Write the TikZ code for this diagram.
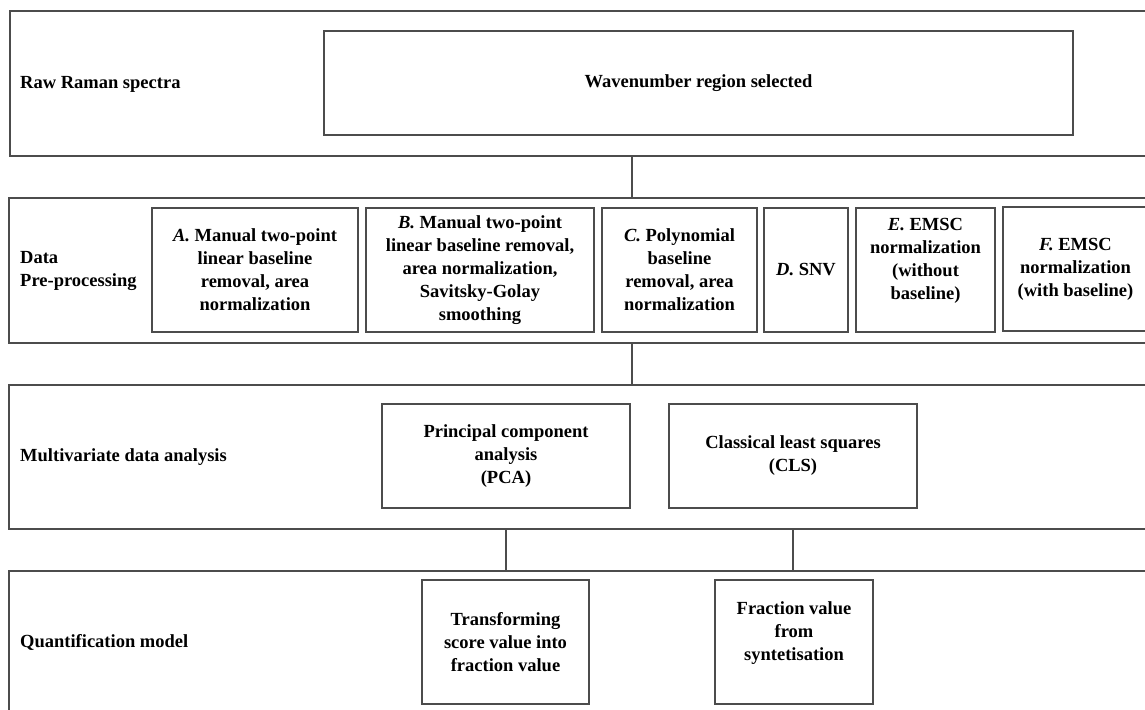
\documentclass[tikz,border=0pt]{standalone}
\usepackage{fontspec}
\setmainfont{Liberation Serif}
\begin{document}
\begin{tikzpicture}[x=1pt,y=-1pt,
  every node/.style={font=\fontsize{18.5}{23}\selectfont\bfseries, text=black, inner sep=0pt},
  band/.style={draw=black!70, line width=1.7pt, rectangle, anchor=north west},
  box/.style={draw=black!70, line width=1.7pt, rectangle, align=center},
  lbl/.style={anchor=west, align=left},
  conn/.style={draw=black!70, line width=1.7pt}]
\useasboundingbox (0,0) rectangle (1145,709);
\clip (0,0) rectangle (1145,709);
\fill[white] (0,0) rectangle (1145,709);
% bands
\node[band, minimum width=1160pt, minimum height=145pt] (b1) at (9,10) {};
\node[band, minimum width=1160pt, minimum height=145pt] (b2) at (8,197) {};
\node[band, minimum width=1160pt, minimum height=144pt] (b3) at (8,384) {};
\node[band, minimum width=1160pt, minimum height=160pt] (b4) at (8,570) {};
% band labels
\node[lbl] (l1) at (20,84) {Raw Raman spectra};
\node[lbl] (l2) at (20,271) {Data\\Pre-processing};
\node[lbl] (l3) at (20,457) {Multivariate data analysis};
\node[lbl] (l4) at (20,642) {Quantification model};
% row 1
\node[box, minimum width=749pt, minimum height=104pt] (w) at (698.5,83) {Wavenumber region selected};
% row 2
\node[box, minimum width=206pt, minimum height=124pt] (a) at (255,270) {\textit{A.} Manual two-point\\linear baseline\\removal, area\\normalization};
\node[box, minimum width=228pt, minimum height=124pt] (b) at (480,270) {\textit{B.} Manual two-point\\linear baseline removal,\\area normalization,\\Savitsky-Golay\\smoothing};
\node[box, minimum width=155pt, minimum height=124pt] (c) at (679.5,270) {\textit{C.} Polynomial\\baseline\\removal, area\\normalization};
\node[box, minimum width=84pt, minimum height=124pt] (d) at (806,270) {\textit{D.} SNV};
\node[box, minimum width=139pt, minimum height=124pt,
  label={[name=et, align=center, yshift=9pt]center:\textit{E.} EMSC\\normalization\\(without\\baseline)}] (e) at (925.5,270) {};
\node[box, minimum width=145pt, minimum height=124pt] (f) at (1075.5,269) {\textit{F.} EMSC\\normalization\\(with baseline)};
% row 3
\node[box, minimum width=248pt, minimum height=104pt] (pca) at (506,456) {Principal component\\analysis\\(PCA)};
\node[box, minimum width=248pt, minimum height=104pt] (cls) at (793,456) {Classical least squares\\(CLS)};
% row 4
\node[box, minimum width=167pt, minimum height=124pt] (tr) at (505.5,642) {Transforming\\score value into\\fraction value};
\node[box, minimum width=158pt, minimum height=124pt,
  label={[name=frt, align=center, yshift=9pt]center:Fraction value\\from\\syntetisation}] (fr) at (794,642) {};
% connectors
\coordinate (cx) at (632,0);
\draw[conn] (b1.south -| cx) -- (b2.north -| cx);
\draw[conn] (b2.south -| cx) -- (b3.north -| cx);
\draw[conn] (b3.south -| pca) -- (b4.north -| pca);
\draw[conn] (b3.south -| cls) -- (b4.north -| cls);
\end{tikzpicture}
\end{document}
